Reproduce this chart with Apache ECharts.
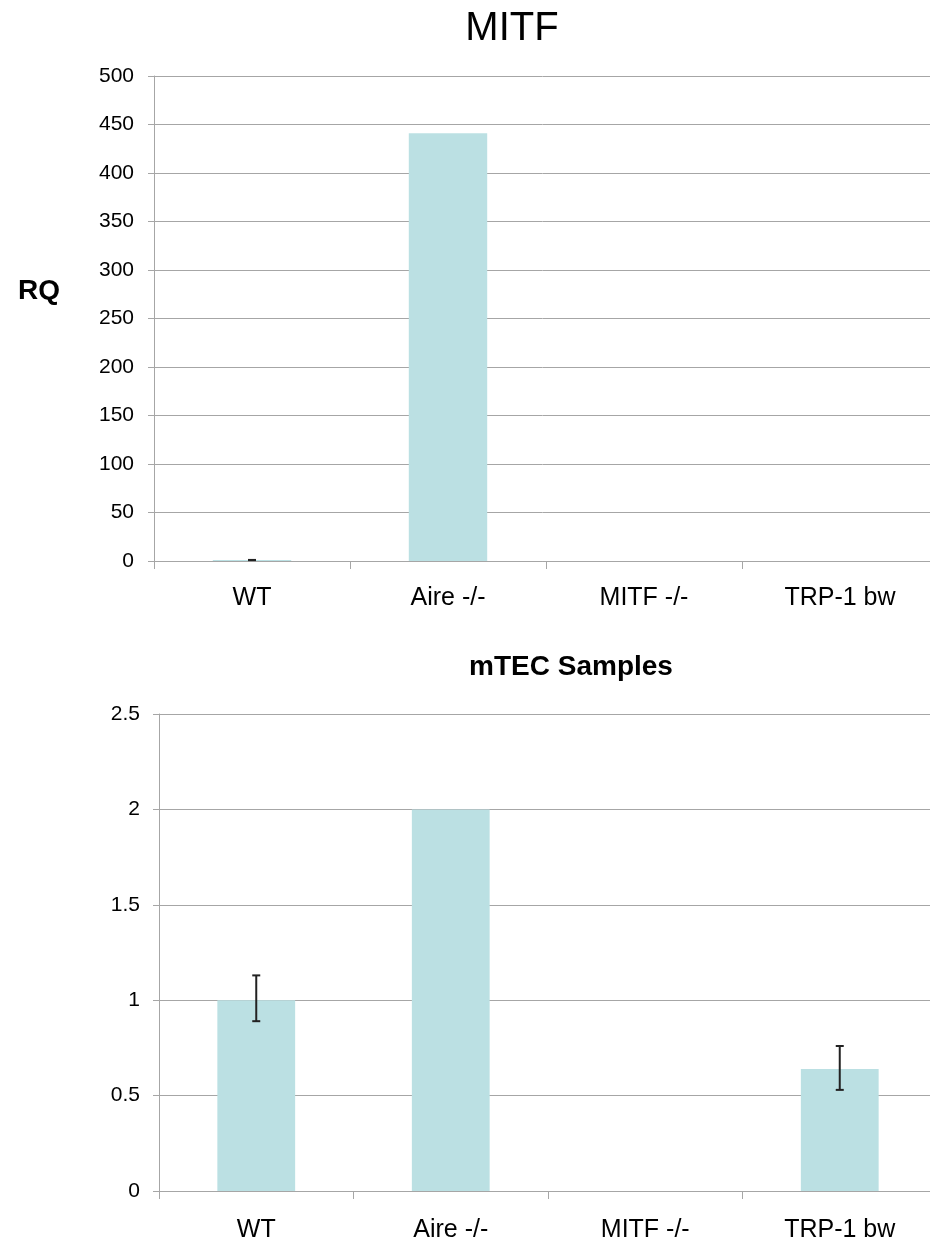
<!DOCTYPE html>
<html>
<head>
<meta charset="utf-8">
<script src="https://cdn.jsdelivr.net/npm/echarts@6/dist/echarts.min.js"></script>
<style>
html,body{margin:0;padding:0;background:#fff;}
#main{width:930px;height:1245px;}
</style>
</head>
<body>
<div id="main"></div>
<script>
var categories = ['WT', 'Aire -/-', 'MITF -/-', 'TRP-1 bw'];
var topValues = [1, 441, 0, 0];
var topErrLow = [0.9, null, null, null];
var topErrHigh = [1.1, null, null, null];
var topTicks = [0, 50, 100, 150, 200, 250, 300, 350, 400, 450, 500];
var bottomValues = [1, 2, 0, 0.64];
var bottomErrLow = [0.89, null, null, 0.53];
var bottomErrHigh = [1.13, null, null, 0.76];
var bottomTicks = [0, 0.5, 1, 1.5, 2, 2.5];

var FONT = '"Liberation Sans", Arial, sans-serif';
var BAR = '#BBE0E3';
var GRID = '#A6A6A6';

function errData(lo, hi) {
  var out = [];
  for (var i = 0; i < categories.length; i++) {
    if (lo[i] != null && hi[i] != null) out.push([i, lo[i], hi[i]]);
  }
  return out;
}

function errRender(params, api) {
  var x = api.value(0);
  var lo = api.coord([x, api.value(1)]);
  var hi = api.coord([x, api.value(2)]);
  var cap = 4;
  var st = {stroke: '#222', lineWidth: 2};
  return {
    type: 'group',
    children: [
      {type: 'line', shape: {x1: lo[0], y1: lo[1], x2: hi[0], y2: hi[1]}, style: st},
      {type: 'line', shape: {x1: lo[0] - cap, y1: lo[1], x2: lo[0] + cap, y2: lo[1]}, style: st},
      {type: 'line', shape: {x1: hi[0] - cap, y1: hi[1], x2: hi[0] + cap, y2: hi[1]}, style: st}
    ]
  };
}

function yAxis(gi, ticks, margin) {
  return {
    type: 'value', gridIndex: gi,
    min: ticks[0], max: ticks[ticks.length - 1], interval: ticks[1] - ticks[0],
    axisLine: {show: true, lineStyle: {color: GRID, width: 1}},
    axisTick: {show: true, length: 6, lineStyle: {color: GRID}},
    splitLine: {show: true, lineStyle: {color: GRID, width: 1}},
    axisLabel: {color: '#000', fontFamily: FONT, fontSize: 21, margin: margin,
      formatter: function (v) { return String(v); }}
  };
}

function xAxis(gi, margin) {
  return {
    type: 'category', gridIndex: gi, data: categories,
    axisLine: {show: true, lineStyle: {color: GRID, width: 1}},
    axisTick: {show: true, length: 8, lineStyle: {color: GRID}},
    axisLabel: {color: '#000', fontFamily: FONT, fontSize: 25, margin: margin}
  };
}

var chart = echarts.init(document.getElementById('main'), null, {renderer: 'canvas'});
chart.setOption({
  backgroundColor: '#fff',
  animation: false,
  title: [
    {text: 'MITF', left: 507, top: 4, textAlign: 'center',
      textStyle: {fontFamily: FONT, fontSize: 40, fontWeight: 'normal', color: '#000'}},
    {text: 'RQ', left: 34, top: 272, textAlign: 'center',
      textStyle: {fontFamily: FONT, fontSize: 28, fontWeight: 'bold', color: '#000'}},
    {text: 'mTEC Samples', left: 566, top: 648, textAlign: 'center',
      textStyle: {fontFamily: FONT, fontSize: 28, fontWeight: 'bold', color: '#000'}}
  ],
  grid: [
    {left: 154, top: 76, width: 784, height: 485, outerBoundsMode: 'none', containLabel: false},
    {left: 159, top: 714, width: 778, height: 477, outerBoundsMode: 'none', containLabel: false}
  ],
  xAxis: [xAxis(0, 25), xAxis(1, 27)],
  yAxis: [yAxis(0, topTicks, 20), yAxis(1, bottomTicks, 19)],
  series: [
    {type: 'bar', xAxisIndex: 0, yAxisIndex: 0, data: topValues, barWidth: '40%',
      itemStyle: {color: BAR}},
    {type: 'custom', xAxisIndex: 0, yAxisIndex: 0, renderItem: errRender,
      data: errData(topErrLow, topErrHigh), z: 5},
    {type: 'bar', xAxisIndex: 1, yAxisIndex: 1, data: bottomValues, barWidth: '40%',
      itemStyle: {color: BAR}},
    {type: 'custom', xAxisIndex: 1, yAxisIndex: 1, renderItem: errRender,
      data: errData(bottomErrLow, bottomErrHigh), z: 5}
  ]
});
</script>
</body>
</html>
